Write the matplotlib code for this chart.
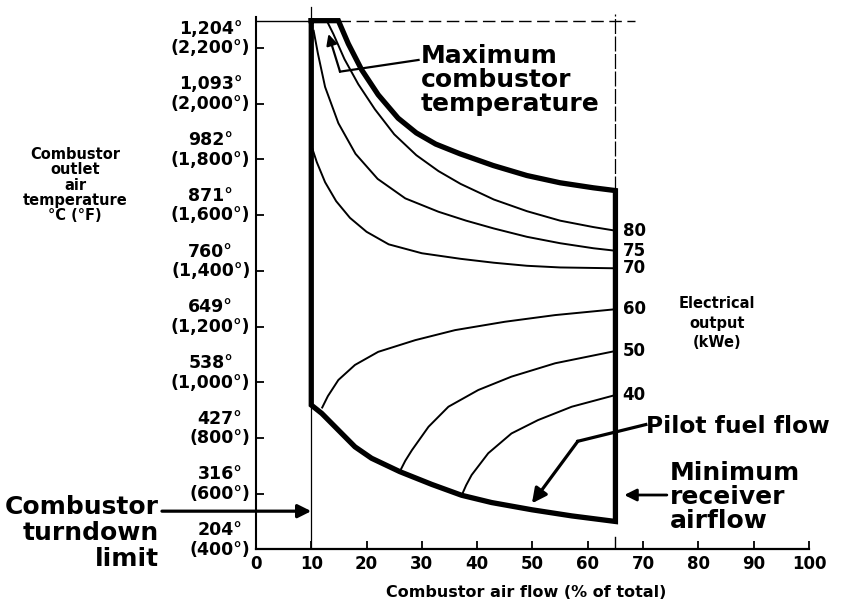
import matplotlib.pyplot as plt
import matplotlib.transforms as mtransforms
import numpy as np

plt.rcParams["font.family"] = ["DejaVu Sans"]
plt.rcParams["font.weight"] = "bold"

# axes: combustor air flow (% of total) vs outlet air temperature (deg F)
air_ticks = list(range(0, 101, 10))
temp_ticks = [400, 600, 800, 1000, 1200, 1400, 1600, 1800, 2000, 2200]
temp_tick_labels = [
    "204°\n(400°)", "316°\n(600°)", "427°\n(800°)", "538°\n(1,000°)",
    "649°\n(1,200°)", "760°\n(1,400°)", "871°\n(1,600°)", "982°\n(1,800°)",
    "1,093°\n(2,000°)", "1,204°\n(2,200°)",
]

turndown_air = 10        # combustor turndown limit
min_receiver_air = 65    # minimum receiver airflow
max_temp = 2298          # maximum combustor temperature line

# thick operating envelope
max_temp_air = [10, 14.9, 16.7, 19.1, 22.1, 25.7, 29.0, 32.5, 36.9, 42.9, 49.0, 55.0, 61.0, 65]
max_temp_curve = [2298, 2298, 2215, 2122, 2032, 1948, 1895, 1855, 1820, 1778, 1742, 1716, 1698, 1688]
floor_air = [10, 11.9, 14.9, 17.9, 20.9, 26.0, 31.8, 37.2, 42.6, 49.9, 57.1, 65]
floor_temp = [918, 888, 828, 768, 727, 679, 633, 594, 568, 542, 520, 500]

# constant electrical output lines (kWe)
kwe80_air = [12.8, 14.0, 16.0, 18.5, 21.5, 25.0, 29.0, 33.0, 37.0, 43.0, 49.0, 55.0, 61.0, 65.0]
kwe80_temp = [2298, 2250, 2160, 2070, 1980, 1890, 1815, 1758, 1712, 1656, 1614, 1580, 1557, 1544]
kwe75_air = [10.4, 11.2, 12.5, 14.9, 18.0, 22.0, 27.0, 33.0, 38.0, 43.0, 49.0, 55.0, 61.0, 65.0]
kwe75_temp = [2265, 2180, 2060, 1930, 1820, 1730, 1660, 1612, 1580, 1552, 1522, 1499, 1481, 1472]
kwe70_air = [10, 11.0, 12.5, 14.5, 17.0, 20.0, 24.0, 30.0, 37.0, 43.0, 49.0, 55.0, 65.0]
kwe70_temp = [1850, 1790, 1718, 1650, 1590, 1540, 1495, 1463, 1443, 1429, 1418, 1412, 1409]
kwe60_air = [11.9, 13.0, 14.9, 17.9, 22.1, 28.8, 36.0, 45.0, 54.1, 65.0]
kwe60_temp = [906, 950, 1008, 1062, 1109, 1151, 1187, 1217, 1241, 1262]
kwe50_air = [26.0, 27.0, 28.2, 31.2, 34.8, 40.2, 46.2, 54.1, 65.0]
kwe50_temp = [679, 718, 756, 840, 912, 972, 1020, 1068, 1112]
kwe40_air = [37.2, 38.0, 39.0, 42.0, 46.2, 51.0, 57.1, 65.0]
kwe40_temp = [594, 630, 667, 745, 816, 864, 912, 954]
kwe_labels = ["80", "75", "70", "60", "50", "40"]


def main():
    fig = plt.figure(figsize=(8.42, 6.08), dpi=100)
    ax = fig.add_axes([0.304, 0.0965, 0.6568, 0.8979])
    ax.set_xlim(0, 100)
    ax.set_ylim(400, 2360)

    for side in ("top", "right"):
        ax.spines[side].set_visible(False)
    ax.spines["left"].set_bounds(400, 2310)
    ax.spines["left"].set_linewidth(1.5)
    ax.spines["bottom"].set_linewidth(1.6)

    ax.set_xticks(air_ticks)
    ax.set_yticks(temp_ticks)
    ax.set_yticklabels(temp_tick_labels, linespacing=1.12, multialignment="center",
                       va="center")
    ax.tick_params(direction="in", length=6, width=1.3)
    ax.tick_params(axis="x", labelsize=12, pad=4)
    ax.tick_params(axis="y", labelsize=12.5, pad=4)
    shift = mtransforms.ScaledTranslation(0, 6.8 / 72, fig.dpi_scale_trans)
    for lbl in ax.get_yticklabels():
        lbl.set_transform(lbl.get_transform() + shift)

    ax.set_xlabel("Combustor air flow (% of total)", fontsize=11.5, fontweight="bold")
    ax.xaxis.set_label_coords(0.489, -0.066)
    fig.text(0.089, 1 - 185 / 608, "Combustor\noutlet\nair\ntemperature\n°C (°F)",
             ha="center", va="center", fontsize=10.5, linespacing=1.02)

    # reference lines
    ax.plot([0, turndown_air], [max_temp, max_temp], color="black", lw=1)
    ax.plot([max_temp_air[1], 68.5], [max_temp, max_temp], color="black", lw=1,
            dashes=(9, 4))
    ax.plot([turndown_air, turndown_air], [400, 2347], color="black", lw=0.9)
    ax.plot([min_receiver_air, min_receiver_air], [max_temp_curve[-1], 2322],
            color="black", lw=0.9, dashes=(12, 2))
    ax.plot([min_receiver_air, min_receiver_air], [400, 445], color="black", lw=1)

    # kWe lines
    series = [(kwe80_air, kwe80_temp), (kwe75_air, kwe75_temp), (kwe70_air, kwe70_temp),
              (kwe60_air, kwe60_temp), (kwe50_air, kwe50_temp), (kwe40_air, kwe40_temp)]
    for (xs, ys), name in zip(series, kwe_labels):
        ax.plot(xs, ys, color="black", lw=1.4, solid_capstyle="butt")
        ax.text(xs[-1] + 1.3, ys[-1], name, fontsize=12, ha="left", va="center")

    # envelope
    env_x = np.concatenate([max_temp_air, floor_air[::-1], [max_temp_air[0]]])
    env_y = np.concatenate([max_temp_curve, floor_temp[::-1], [max_temp_curve[0]]])
    ax.plot(env_x, env_y, color="black", lw=3.8, solid_joinstyle="miter")

    # annotations
    big = dict(fontsize=18, fontweight="bold", clip_on=False)
    ax.text(29.8, 2085, "Maximum\ncombustor\ntemperature", ha="left", va="center",
            linespacing=0.99, **big)
    ax.plot([29.4, 15.2], [2157, 2115], color="black", lw=1.6)
    ax.annotate("", xy=(13.1, 2250), xytext=(15.2, 2115),
                arrowprops=dict(arrowstyle="-|>", mutation_scale=16, lw=1.6,
                                color="black", shrinkA=0, shrinkB=0))

    ax.text(70.6, 842, "Pilot fuel flow", ha="left", va="center",
            **{**big, "fontsize": 16.8})
    ax.plot([70.5, 58.2], [848, 788], color="black", lw=2.3)
    ax.annotate("", xy=(49.9, 565), xytext=(58.2, 788),
                arrowprops=dict(arrowstyle="-|>", mutation_scale=22, lw=2.3,
                                color="black", shrinkA=0, shrinkB=0))

    ax.text(74.8, 588, "Minimum\nreceiver\nairflow", ha="left", va="center",
            linespacing=1.02, **big)
    ax.annotate("", xy=(66.6, 595), xytext=(74.3, 595),
                arrowprops=dict(arrowstyle="-|>", mutation_scale=18, lw=2.0,
                                color="black", shrinkA=0, shrinkB=0))

    ax.text(-17.6, 458, "Combustor\nturndown\nlimit", ha="right", va="center",
            linespacing=1.12, **big)
    ax.annotate("", xy=(turndown_air, 537), xytext=(-17.0, 537),
                annotation_clip=False,
                arrowprops=dict(arrowstyle="-|>", mutation_scale=20, lw=2.3,
                                color="black", shrinkA=0, shrinkB=0))

    ax.text(83.4, 1212, "Electrical\noutput\n(kWe)", ha="center", va="center",
            fontsize=10.5, linespacing=1.36)

    fig.savefig("out.png", dpi=100)


if __name__ == "__main__":
    main()
